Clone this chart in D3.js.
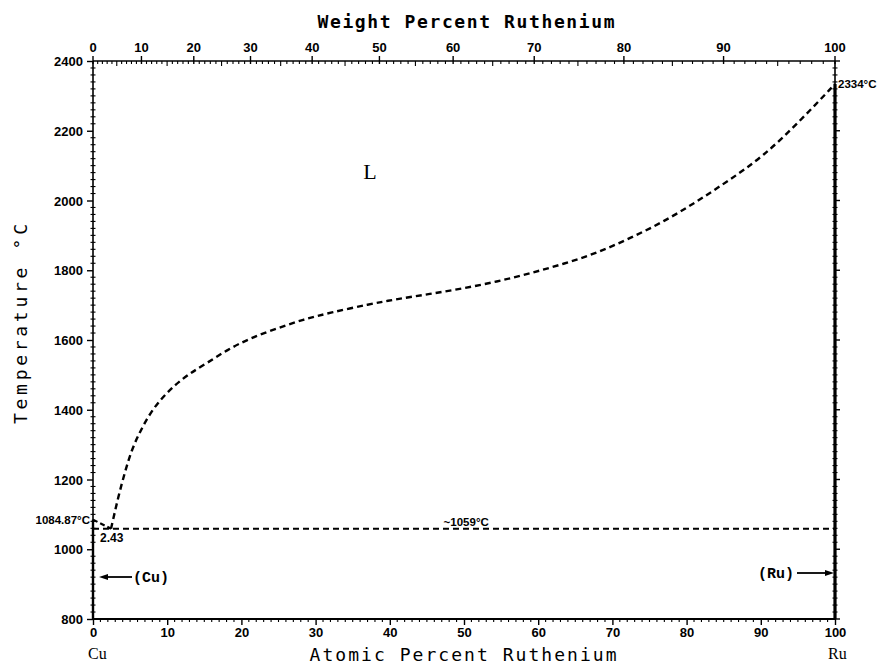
<!DOCTYPE html>
<html><head><meta charset="utf-8">
<script src="https://cdn.jsdelivr.net/npm/d3@7"></script>
<style>body{margin:0;background:#fff}</style>
</head><body>
<svg id="c" width="896" height="666"></svg>
<script>
// ---- data ----
const liquidusAt = [2.43, 3.41, 4.31, 5.21, 6.33, 7.68, 9.25, 11.05, 13.07, 15.32, 18.0, 21.16, 24.76, 28.34, 31.9, 37.3, 40.9, 45.4, 49.9, 54.4, 58.9, 63.4, 67.9, 72.4, 76.9, 81.4, 85.8, 90.3, 95.3, 100];
const liquidusT  = [1059, 1151, 1222, 1285, 1337, 1390, 1433, 1471, 1505, 1533, 1571, 1605, 1633, 1659, 1678, 1703, 1717, 1732, 1748, 1767, 1791, 1818, 1849, 1892, 1939, 1997, 2059, 2126, 2228, 2334];
const cuMelt = 1084.87, ruMelt = 2334, eutT = 1059, eutAt = 2.43;
const tempTicks = [800, 1000, 1200, 1400, 1600, 1800, 2000, 2200, 2400];
const atTicks = [0, 10, 20, 30, 40, 50, 60, 70, 80, 90, 100];
const wtTicks = [0, 10, 20, 30, 40, 50, 60, 70, 80, 90, 100];
const massCu = 63.546, massRu = 101.07;

const svg = d3.select('#c');
const x = d3.scaleLinear().domain([0, 100]).range([93, 835]);
const y = d3.scaleLinear().domain([800, 2400]).range([619, 61]);
const wt2at = w => { const a = w / massRu, b = (100 - w) / massCu; return 100 * a / (a + b); };

const lblFont = "'Liberation Sans', Arial, sans-serif";
const monoFont = "'DejaVu Sans Mono', monospace";

// axes lines
svg.append('line').attr('x1', x(0)).attr('x2', x(100)).attr('y1', y(2400)).attr('y2', y(2400)).attr('stroke', '#000').attr('stroke-width', 1.6);
svg.append('line').attr('x1', x(0)).attr('x2', x(100)).attr('y1', y(800)).attr('y2', y(800)).attr('stroke', '#000').attr('stroke-width', 2.2);
svg.append('line').attr('x1', x(0)).attr('x2', x(0)).attr('y1', y(2400)).attr('y2', y(800)).attr('stroke', '#000').attr('stroke-width', 1.6);
svg.append('line').attr('x1', x(100)).attr('x2', x(100)).attr('y1', y(2400)).attr('y2', y(800)).attr('stroke', '#000').attr('stroke-width', 1.6);

// left axis
const left = d3.axisLeft(y).tickValues(tempTicks).tickSize(6).tickFormat(d3.format('d'));
const gl = svg.append('g').attr('transform', `translate(${x(0)},0)`).call(left);
gl.select('.domain').remove();
gl.selectAll('text').attr('font-family', lblFont).attr('font-weight', 'bold').attr('font-size', 13).attr('x', -10).attr('dy', '0.35em');
gl.selectAll('line').attr('stroke-width', 1.4);
// minor ticks temperature (every 20)
const minorT = d3.range(800, 2401, 20).filter(v => v % 200 !== 0);
svg.append('g').selectAll('line').data(minorT).join('line')
  .attr('x1', x(0) - 2.5).attr('x2', x(0) + 2.5).attr('y1', d => y(d)).attr('y2', d => y(d)).attr('stroke', '#000').attr('stroke-width', 1.1);
svg.append('g').selectAll('line').data(minorT).join('line')
  .attr('x1', x(100) - 2.5).attr('x2', x(100) + 2.5).attr('y1', d => y(d)).attr('y2', d => y(d)).attr('stroke', '#000').attr('stroke-width', 1.1);
svg.append('g').selectAll('line').data(tempTicks).join('line')
  .attr('x1', x(100)).attr('x2', x(100) + 5).attr('y1', d => y(d)).attr('y2', d => y(d)).attr('stroke', '#000').attr('stroke-width', 1.4);

// bottom axis
const bottom = d3.axisBottom(x).tickValues(atTicks).tickSize(6).tickFormat(d3.format('d'));
const gb = svg.append('g').attr('transform', `translate(0,${y(800)})`).call(bottom);
gb.select('.domain').remove();
gb.selectAll('text').attr('font-family', lblFont).attr('font-weight', 'bold').attr('font-size', 13).attr('y', 9);
gb.selectAll('line').attr('stroke-width', 1.4);
const minorA = d3.range(0, 101, 1).filter(v => v % 10 !== 0);
svg.append('g').selectAll('line').data(minorA).join('line')
  .attr('x1', d => x(d)).attr('x2', d => x(d)).attr('y1', y(800)).attr('y2', y(800) + 3).attr('stroke', '#000').attr('stroke-width', 1.1);

// top axis (weight percent)
const gt = svg.append('g');
gt.selectAll('line.maj').data(wtTicks).join('line').attr('class', 'maj')
  .attr('x1', d => x(wt2at(d))).attr('x2', d => x(wt2at(d))).attr('y1', y(2400) - 5).attr('y2', y(2400) + 3).attr('stroke', '#000').attr('stroke-width', 1.4);
gt.selectAll('text').data(wtTicks).join('text')
  .attr('x', d => x(wt2at(d))).attr('y', y(2400) - 9).attr('text-anchor', 'middle')
  .attr('font-family', lblFont).attr('font-weight', 'bold').attr('font-size', 13).text(d => d);
const minorW = d3.range(0, 101, 1).filter(v => v % 10 !== 0);
gt.selectAll('line.min').data(minorW).join('line').attr('class', 'min')
  .attr('x1', d => x(wt2at(d))).attr('x2', d => x(wt2at(d))).attr('y1', y(2400)).attr('y2', d => y(2400) + (d % 5 === 0 ? 5 : 3)).attr('stroke', '#000').attr('stroke-width', 1.1);

// phase boundaries
svg.append('line').attr('x1', x(0)).attr('x2', x(0)).attr('y1', y(800)).attr('y2', y(cuMelt)).attr('stroke', '#000').attr('stroke-width', 2.4);
svg.append('line').attr('x1', x(100)).attr('x2', x(100)).attr('y1', y(800)).attr('y2', y(ruMelt)).attr('stroke', '#000').attr('stroke-width', 3.2);

const dash = '6,4';
svg.append('line').attr('x1', x(0)).attr('x2', x(100)).attr('y1', y(eutT)).attr('y2', y(eutT))
  .attr('stroke', '#000').attr('stroke-width', 2).attr('stroke-dasharray', dash);
svg.append('line').attr('x1', x(0)).attr('x2', x(eutAt)).attr('y1', y(cuMelt)).attr('y2', y(eutT))
  .attr('stroke', '#000').attr('stroke-width', 2.2).attr('stroke-dasharray', '5,3');
const liq = liquidusAt.map((a, i) => [a, liquidusT[i]]);
svg.append('path').datum(liq)
  .attr('d', d3.line().x(d => x(d[0])).y(d => y(d[1])).curve(d3.curveBasis))
  .attr('fill', 'none').attr('stroke', '#000').attr('stroke-width', 2.4).attr('stroke-dasharray', dash);

// annotations
const bold = (t, px, py, anchor, size) => svg.append('text').attr('x', px).attr('y', py).attr('text-anchor', anchor)
  .attr('font-family', lblFont).attr('font-weight', 'bold').attr('font-size', size).attr('dy', '0.35em').text(t);
bold('1084.87°C', x(0) - 3, y(cuMelt), 'end', 11.5);
bold('2.43', x(0) + 7, y(eutT) + 9, 'start', 12);
bold('~1059°C', x(50.3), y(eutT) - 7, 'middle', 11.5);
bold('2334°C', x(100) + 3, y(ruMelt), 'start', 11.5);

svg.append('text').attr('x', 370).attr('y', 179).attr('text-anchor', 'middle')
  .attr('font-family', "'Liberation Serif', serif").attr('font-size', 22).text('L');

// phase labels with arrows
const yCu = 577, yRu = 573;
svg.append('text').attr('x', 133).attr('y', yCu).attr('dy', '0.35em').attr('font-family', "'Liberation Mono', monospace").attr('font-weight', 'bold').attr('font-size', 15).text('(Cu)');
svg.append('line').attr('x1', 132).attr('x2', 104).attr('y1', yCu).attr('y2', yCu).attr('stroke', '#000').attr('stroke-width', 1.8);
svg.append('path').attr('d', `M${x(0) + 6},${yCu} l9,-3 l0,6 z`).attr('fill', '#000');
svg.append('text').attr('x', 794).attr('y', yRu).attr('dy', '0.35em').attr('text-anchor', 'end').attr('font-family', "'Liberation Mono', monospace").attr('font-weight', 'bold').attr('font-size', 15).text('(Ru)');
svg.append('line').attr('x1', 797).attr('x2', 826).attr('y1', yRu).attr('y2', yRu).attr('stroke', '#000').attr('stroke-width', 1.8);
svg.append('path').attr('d', `M${x(100) - 1},${yRu} l-9,-3 l0,6 z`).attr('fill', '#000');

// axis titles
svg.append('text').attr('x', 466).attr('y', 28).attr('text-anchor', 'middle')
  .attr('font-family', monoFont).attr('font-weight', 'bold').attr('font-size', 18)
  .attr('textLength', 297).attr('lengthAdjust', 'spacing').text('Weight Percent Ruthenium');
svg.append('text').attr('x', 463).attr('y', 661).attr('text-anchor', 'middle')
  .attr('font-family', monoFont).attr('font-size', 18)
  .attr('textLength', 307).attr('lengthAdjust', 'spacing').text('Atomic Percent Ruthenium');
svg.append('text').attr('transform', 'translate(27,324) rotate(-90)').attr('text-anchor', 'middle')
  .attr('font-family', monoFont).attr('font-size', 18)
  .attr('textLength', 200).attr('lengthAdjust', 'spacing').text('Temperature °C');
svg.append('text').attr('x', 88).attr('y', 659).attr('font-family', "'Liberation Serif', serif").attr('font-size', 16).text('Cu');
svg.append('text').attr('x', 828).attr('y', 659).attr('font-family', "'Liberation Serif', serif").attr('font-size', 16).text('Ru');
</script>
</body></html>
